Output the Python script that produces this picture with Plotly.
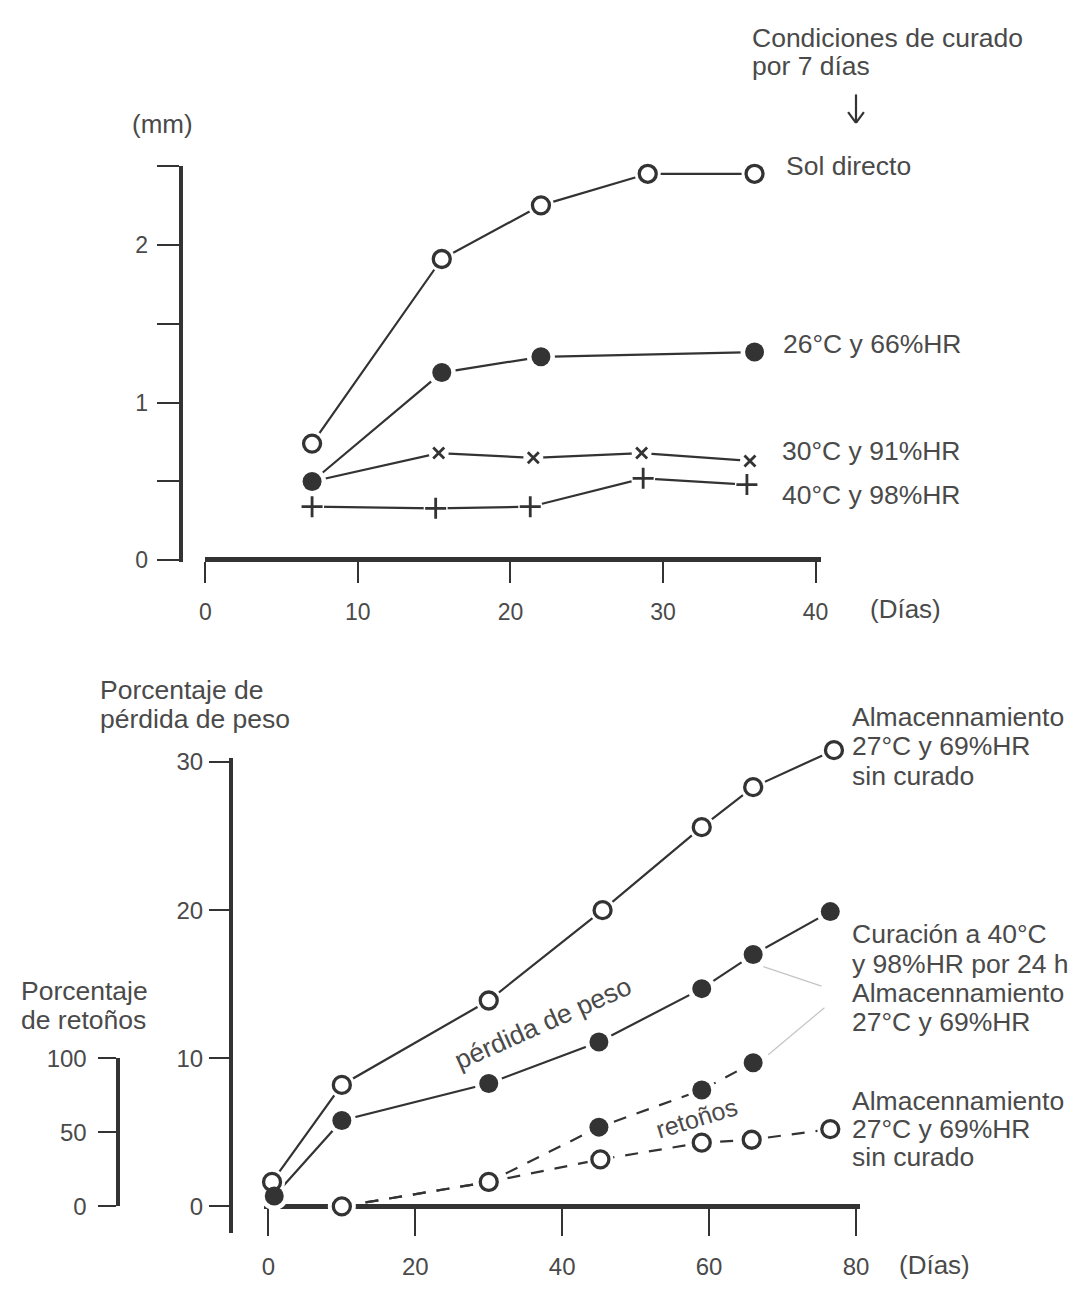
import plotly.graph_objects as go

# figure is placed inside the default 8px body margin of the page
M = 8
FW, FH = 1083 - 2 * M, 1292 - 2 * M


def clamp(v):
    return min(1.0, max(0.0, v))


def px(x):
    return (x - M) / FW


def py(y):
    return 1 - (y - M) / FH


# ---------------- data: top panel (mm) ----------------
sol_days = [7, 15.5, 22, 29, 36]
sol_mm = [0.74, 1.91, 2.25, 2.45, 2.45]
c26_days = [7, 15.5, 22, 36]
c26_mm = [0.50, 1.19, 1.29, 1.32]
c30_days = [7, 15.3, 21.5, 28.6, 35.7]
c30_mm = [0.50, 0.68, 0.65, 0.68, 0.63]
c40_days = [7, 15.1, 21.3, 28.7, 35.5]
c40_mm = [0.34, 0.33, 0.34, 0.52, 0.48]
top_xticks = [0, 10, 20, 30, 40]
top_yticks = [0, 0.5, 1, 1.5, 2, 2.5]
top_ylabels = ["0", "", "1", "", "2", ""]

# ---------------- data: bottom panel ----------------
wl_nocure_days = [0.5, 10, 30, 45.5, 59, 66, 77]
wl_nocure = [1.65, 8.2, 13.9, 20.0, 25.6, 28.3, 30.8]
wl_cure_days = [0.8, 10, 30, 45, 59, 66, 76.5]
wl_cure = [0.7, 5.8, 8.3, 11.1, 14.7, 17.0, 19.9]
sp_cure_days = [10, 30, 45, 59, 66]
sp_cure = [0, 16.5, 53.5, 78.6, 97]
sp_nocure_days = [10, 30, 45.2, 59, 65.8, 76.5]
sp_nocure = [0, 16.5, 31.7, 43.0, 45.0, 52.2]
bot_xticks = [0, 20, 40, 60, 80]
bot_yticks = [0, 10, 20, 30]
sp_yticks = [0, 50, 100]

LC = "#333333"
TC = "#4a4a4a"
FONT = "Liberation Sans, Arial, sans-serif"
TXT = 26.5

fig = go.Figure()

# empty traces so that the visible bottom axes get their own subplots
fig.add_trace(go.Scatter(x=[None], y=[None], xaxis="x2", yaxis="y2", mode="markers",
                         hoverinfo="skip", showlegend=False))
fig.add_trace(go.Scatter(x=[None], y=[None], xaxis="x2", yaxis="y3", mode="markers",
                         hoverinfo="skip", showlegend=False))

marker_layers = []


def add_series(x, y, xa, ya, symbol, size, filled, dash="solid", lw=2.2):
    fig.add_trace(go.Scatter(x=x, y=y, xaxis=xa, yaxis=ya, mode="lines",
                             line=dict(color=LC, width=lw, dash=dash),
                             hoverinfo="skip", showlegend=False))
    marker_layers.append((x, y, xa, ya, symbol, size, filled))


add_series(sol_days, sol_mm, "x", "y", "circle", 17, False)
add_series(c30_days, c30_mm, "x", "y", "x-thin", 11, None)
add_series(c40_days, c40_mm, "x", "y", "cross-thin", 15, None)
add_series(c26_days, c26_mm, "x", "y", "circle", 19, True)

# weight loss on y4 (same scale as y2), sprouting on y5 (same scale as y3)
add_series(wl_nocure_days, wl_nocure, "x2", "y4", "circle", 17, False)
add_series(wl_cure_days, wl_cure, "x2", "y4", "circle", 19, True)
add_series(sp_cure_days, sp_cure, "x2", "y5", "circle", 19, True, dash="13px,11px")
add_series(sp_nocure_days, sp_nocure, "x2", "y5", "circle", 17, False, dash="13px,11px")

# white halos (gap between line and marker)
for x, y, xa, ya, symbol, size, filled in marker_layers:
    fig.add_trace(go.Scatter(x=x, y=y, xaxis=xa, yaxis=ya, mode="markers",
                             marker=dict(symbol="circle", size=size + 9, color="white",
                                         line=dict(width=0)),
                             cliponaxis=False, hoverinfo="skip", showlegend=False))

for x, y, xa, ya, symbol, size, filled in marker_layers:
    if filled is True:
        mk = dict(symbol=symbol, size=size, color=LC, line=dict(width=0))
    elif filled is False:
        mk = dict(symbol=symbol, size=size, color="white", line=dict(width=3.3, color=LC))
    else:
        mk = dict(symbol=symbol, size=size, color=LC, line=dict(width=2.8, color=LC))
    fig.add_trace(go.Scatter(x=x, y=y, xaxis=xa, yaxis=ya, mode="markers", marker=mk,
                             cliponaxis=False, hoverinfo="skip", showlegend=False))

axis_common = dict(showgrid=False, zeroline=False, showline=True, linecolor=LC,
                   ticks="outside", tickcolor=LC, tickwidth=2, fixedrange=True)
tf_top = dict(family=FONT, size=23, color=TC)
tf_bot = dict(family=FONT, size=24, color=TC)

# top scale: 0 at 558px, 2.5 at 155px ; days: 0 at 202px, 40 at 821px
TOP_PPU = (558 - 155) / 2.5
TOP_PPD = (821 - 202) / 40.0

# bottom scale: value 0 at 1218px, 30 at 764px ; days: 0 at 266px, 80 at 862px
PPU = (1218 - 764) / 30.0
PPD = (862 - 266) / 80.0


def val_at(p):
    return (1218 - p) / PPU


def day_at(p):
    return (p - 266) / PPD


# invisible axes carrying the bottom data (larger area so nothing is clipped)
DATA_BOT, DATA_TOP = 1258, 700

fig.update_layout(
    width=FW, height=FH,
    margin=dict(l=0, r=0, t=0, b=0),
    paper_bgcolor="white", plot_bgcolor="rgba(0,0,0,0)",
    showlegend=False,
    font=dict(family=FONT, size=TXT, color=TC),
    xaxis=dict(domain=[px(202), px(826)], range=[0, (826 - 202) / TOP_PPD], anchor="free",
               position=py(557), linewidth=5, ticklen=21, tickvals=top_xticks,
               ticklabelstandoff=9, tickfont=tf_top, **axis_common),
    yaxis=dict(domain=[py(560), py(155)], range=[(558 - 560) / TOP_PPU, 2.5], anchor="free",
               position=px(177), linewidth=4, ticklen=22, tickvals=top_yticks,
               ticktext=top_ylabels, ticklabelstandoff=4, tickfont=tf_top, **axis_common),
    xaxis2=dict(domain=[px(262), px(866)], range=[day_at(262), day_at(866)], anchor="free",
                position=py(1218), linewidth=5, ticklen=27, tickvals=bot_xticks,
                ticklabelstandoff=10, tickfont=tf_bot, **axis_common),
    yaxis2=dict(domain=[py(1245), py(760)], range=[val_at(1245), val_at(760)], anchor="free",
                position=px(228), linewidth=4, ticklen=20, tickvals=bot_yticks,
                ticklabelstandoff=1, tickfont=tf_bot, **axis_common),
    yaxis3=dict(domain=[py(1218), py(1218 - 10 * PPU)], range=[0, 100], anchor="free",
                position=px(113), linewidth=4, ticklen=18, tickvals=sp_yticks,
                ticklabelstandoff=6, tickfont=tf_bot, **axis_common),
    yaxis4=dict(domain=[clamp(py(DATA_BOT)), clamp(py(DATA_TOP))],
                range=[val_at(DATA_BOT), val_at(DATA_TOP)],
                anchor="free", position=px(228), visible=False, fixedrange=True),
    yaxis5=dict(domain=[clamp(py(DATA_BOT)), clamp(py(DATA_TOP))],
                range=[10 * val_at(DATA_BOT), 10 * val_at(DATA_TOP)],
                anchor="free", position=px(228), visible=False, fixedrange=True),
)


def note(text, x, y, xanchor="left", size=TXT, angle=0):
    fig.add_annotation(text=text, x=px(x), y=py(y), xref="paper", yref="paper",
                       xanchor=xanchor, yanchor="middle", align="left", showarrow=False,
                       textangle=angle, font=dict(family=FONT, size=size, color=TC))


def block(lines, x, y0, step=30):
    for i, t in enumerate(lines):
        note(t, x, y0 + i * step)


# top panel texts
block(["Condiciones de curado", "por 7 días"], 755, 24, 29)
note("(mm)", 159, 112, xanchor="center", size=26)
note("Sol directo", 789, 155)
note("26°C y 66%HR", 786, 337)
note("30°C y 91%HR", 785, 446)
note("40°C y 98%HR", 785, 491)
note("(Días)", 912, 608, xanchor="center", size=26)

# arrow below the curing-conditions note
for x0, y0, x1, y1 in [(862, 82, 862, 111), (854, 100, 862, 111), (870, 100, 862, 111)]:
    fig.add_shape(type="line", xref="paper", yref="paper",
                  x0=px(x0), y0=py(y0), x1=px(x1), y1=py(y1),
                  line=dict(color=LC, width=2.2))

# bottom panel texts
block(["Porcentaje de", "pérdida de peso"], 93, 690)
block(["Porcentaje", "de retoños"], 13, 998)
block(["Almacennamiento", "27°C y 69%HR", "sin curado"], 856, 718)
block(["Curación a 40°C", "y 98%HR por 24 h", "Almacennamiento", "27°C y 69%HR"], 856, 940)
block(["Almacennamiento", "27°C y 69%HR", "sin curado"], 856, 1110, 29)
note("pérdida de peso", 545, 1031, xanchor="center", angle=-24)
note("retoños", 700, 1128, xanchor="center", size=25, angle=-17)
note("(Días)", 942, 1278, xanchor="center", size=26)

# thin leader lines to the labels
for x0, y0, x1, y1 in [(768, 973, 827, 993), (773, 1063, 830, 1015)]:
    fig.add_shape(type="line", xref="paper", yref="paper",
                  x0=px(x0), y0=py(y0), x1=px(x1), y1=py(y1),
                  line=dict(color="#c4c4c4", width=1.2))

fig.write_html("out.html")
